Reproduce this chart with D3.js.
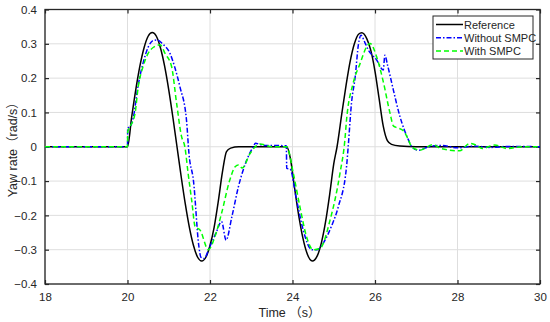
<!DOCTYPE html>
<html>
<head>
<meta charset="utf-8">
<script src="https://cdn.jsdelivr.net/npm/d3@7"></script>
<style>
  body { margin: 0; background: #fff; }
  text { font-family: "Liberation Sans", Arial, "Noto Sans CJK SC", sans-serif; fill: #262626; }
</style>
</head>
<body>
<div id="chart"></div>
<script>
// reference yaw rate
var refT = [18, 20, 20.1, 20.2, 20.3, 20.4, 20.5, 20.6, 20.7, 20.8, 20.9, 21.0, 21.1, 21.2, 21.3, 21.4, 21.5, 21.6, 21.7, 21.8, 21.9, 22.0, 22.1, 22.2, 22.3, 22.4, 22.5, 22.7, 23.86, 23.95, 24.05, 24.15, 24.25, 24.35, 24.48, 24.6, 24.7, 24.8, 24.9, 25.0, 25.08, 25.2, 25.3, 25.4, 25.5, 25.6, 25.68, 25.8, 25.9, 26.0, 26.1, 26.2, 26.3, 26.4, 26.6, 27, 30];
var refV = [0, 0, 0.086, 0.166, 0.235, 0.288, 0.322, 0.333, 0.322, 0.288, 0.235, 0.166, 0.086, 0.0, -0.086, -0.166, -0.235, -0.288, -0.322, -0.333, -0.322, -0.288, -0.235, -0.16, -0.075, -0.014, -0.004, 0, 0, -0.035, -0.12, -0.2, -0.265, -0.31, -0.333, -0.318, -0.28, -0.22, -0.14, -0.05, 0.0, 0.1, 0.18, 0.25, 0.3, 0.328, 0.332, 0.315, 0.28, 0.22, 0.14, 0.06, 0.018, 0.007, 0.002, 0, 0];

// without SMPC
var noT = [18, 20, 20.005, 20.06, 20.14, 20.26, 20.38, 20.5, 20.63, 20.72, 20.85, 21.03, 21.15, 21.27, 21.43, 21.49, 21.6, 21.73, 21.78, 21.85, 22.0, 22.15, 22.28, 22.39, 22.53, 22.69, 22.89, 23.05, 23.1, 23.3, 23.85, 23.86, 23.94, 24.1, 24.26, 24.47, 24.6, 24.75, 24.95, 25.11, 25.31, 25.35, 25.43, 25.52, 25.6, 25.66, 25.75, 25.84, 26.04, 26.2, 26.24, 26.3, 26.44, 26.6, 26.81, 26.89, 27.05, 27.3, 27.6, 28.0, 28.4, 28.8, 29.2, 30];
var noV = [0, 0, 0.055, 0.058, 0.085, 0.18, 0.245, 0.29, 0.31, 0.311, 0.3, 0.272, 0.23, 0.175, 0.078, -0.02, -0.1, -0.29, -0.322, -0.326, -0.29, -0.25, -0.218, -0.272, -0.204, -0.116, -0.039, 0.0, 0.01, 0.004, 0.003, -0.063, -0.065, -0.155, -0.243, -0.3, -0.3, -0.28, -0.23, -0.175, -0.058, 0.0, 0.127, 0.204, 0.3, 0.325, 0.305, 0.282, 0.253, 0.224, 0.267, 0.24, 0.168, 0.09, 0.02, 0.0, -0.01, 0.0, 0.004, -0.003, 0.002, -0.002, 0.001, 0];

// with SMPC
var smT = [18, 20, 20.005, 20.02, 20.18, 20.26, 20.38, 20.5, 20.63, 20.79, 20.91, 21.07, 21.19, 21.31, 21.39, 21.47, 21.56, 21.64, 21.76, 21.96, 22.12, 22.28, 22.48, 22.61, 22.69, 22.78, 22.97, 23.21, 23.5, 23.86, 24.02, 24.18, 24.34, 24.5, 24.67, 24.91, 25.15, 25.27, 25.31, 25.47, 25.64, 25.8, 25.88, 26.04, 26.2, 26.36, 26.45, 26.55, 26.7, 26.81, 26.89, 27.09, 27.4, 27.6, 28.05, 28.3, 28.45, 28.6, 28.9, 29.2, 29.6, 30];
var smV = [0, 0, 0.044, 0.049, 0.095, 0.175, 0.235, 0.272, 0.29, 0.297, 0.272, 0.233, 0.127, 0.03, 0.0, -0.078, -0.16, -0.233, -0.243, -0.3, -0.262, -0.194, -0.097, -0.058, -0.053, -0.062, -0.02, 0.008, 0.0, 0.0, -0.078, -0.175, -0.262, -0.3, -0.296, -0.214, -0.078, 0.02, 0.078, 0.185, 0.243, 0.292, 0.301, 0.262, 0.19, 0.1, 0.06, 0.055, 0.045, 0.02, 0.0, -0.01, 0.006, -0.005, -0.012, 0.01, 0.005, -0.005, 0.005, -0.005, 0.0, 0];

var xTicks = [18, 20, 22, 24, 26, 28, 30];
var yTicks = [0.4, 0.3, 0.2, 0.1, 0, -0.1, -0.2, -0.3, -0.4];
var yTickLabels = ['0.4', '0.3', '0.2', '0.1', '0', '\u22120.1', '\u22120.2', '\u22120.3', '\u22120.4'];
var seriesNames = ['Reference', 'Without SMPC', 'With SMPC'];

const W = 550, H = 322;
const margin = { top: 9.5, right: 10, bottom: 38, left: 45 };
const width = W - margin.left - margin.right;
const height = H - margin.top - margin.bottom;

const svg = d3.select('#chart')
  .append('svg')
    .attr('width', W)
    .attr('height', H)
  .append('g')
    .attr('transform', `translate(${margin.left},${margin.top})`);

const x = d3.scaleLinear().domain([18, 30]).range([0, width]);
const y = d3.scaleLinear().domain([-0.4, 0.4]).range([height, 0]);

// grid
svg.append('g')
  .selectAll('line')
  .data(xTicks)
  .join('line')
    .attr('x1', d => x(d)).attr('x2', d => x(d))
    .attr('y1', 0).attr('y2', height)
    .attr('stroke', '#dedede').attr('stroke-width', 1);
svg.append('g')
  .selectAll('line')
  .data(yTicks)
  .join('line')
    .attr('y1', d => y(d)).attr('y2', d => y(d))
    .attr('x1', 0).attr('x2', width)
    .attr('stroke', '#dedede').attr('stroke-width', 1);

// axes (ticks inward, box style)
const fmtY = d => yTickLabels[yTicks.indexOf(d)];
const axisStyle = g => {
  g.select('.domain').remove();
  g.selectAll('.tick line').attr('stroke', '#262626').attr('stroke-width', 1.2);
  g.selectAll('.tick text').attr('font-size', 11.5).attr('fill', '#262626')
    .attr('font-family', '"Liberation Sans", Arial, sans-serif');
};
svg.append('g')
  .attr('transform', `translate(0,${height})`)
  .call(d3.axisBottom(x).tickValues(xTicks).tickSize(-4).tickPadding(9).tickFormat(d3.format('d')))
  .call(axisStyle);
svg.append('g')
  .call(d3.axisTop(x).tickValues(xTicks).tickSize(-4).tickFormat(''))
  .call(axisStyle);
svg.append('g')
  .call(d3.axisLeft(y).tickValues(yTicks).tickSize(-4).tickPadding(8).tickFormat(fmtY))
  .call(axisStyle);
svg.append('g')
  .attr('transform', `translate(${width},0)`)
  .call(d3.axisRight(y).tickValues(yTicks).tickSize(-4).tickFormat(''))
  .call(axisStyle);

// box
svg.append('rect')
  .attr('x', 0).attr('y', 0)
  .attr('width', width).attr('height', height)
  .attr('fill', 'none')
  .attr('stroke', '#262626')
  .attr('stroke-width', 1.3);

// lines
const lineGen = d3.line()
  .x(d => x(d[0]))
  .y(d => y(d[1]))
  .curve(d3.curveMonotoneX);

const series = [
  { t: refT, v: refV, color: '#000000', dash: null },
  { t: noT, v: noV, color: '#0000ff', dash: '5,2,1.5,2' },
  { t: smT, v: smV, color: '#00ff00', dash: '5,3' }
];

const plot = svg.append('g');
plot.selectAll('path')
  .data(series)
  .join('path')
    .attr('d', s => lineGen(s.t.map((t, i) => [t, s.v[i]])))
    .attr('fill', 'none')
    .attr('stroke', s => s.color)
    .attr('stroke-width', 1.5)
    .attr('stroke-dasharray', s => s.dash);

// legend
const lg = svg.append('g')
  .attr('transform', `translate(${433 - margin.left},${16 - margin.top})`);
lg.append('rect')
  .attr('width', 100).attr('height', 43)
  .attr('fill', '#fff')
  .attr('stroke', '#262626')
  .attr('stroke-width', 1);
seriesNames.forEach((name, i) => {
  const yy = 8.5 + i * 13.3;
  lg.append('line')
    .attr('x1', 3).attr('x2', 30)
    .attr('y1', yy).attr('y2', yy)
    .attr('stroke', series[i].color)
    .attr('stroke-width', 1.5)
    .attr('stroke-dasharray', series[i].dash);
  lg.append('text')
    .attr('x', 31).attr('y', yy + 4)
    .attr('font-size', 11)
    .text(name);
});

// axis titles
svg.append('text')
  .attr('x', x(24) - 3)
  .attr('y', height + 33)
  .attr('text-anchor', 'middle')
  .attr('font-size', 12.5)
  .text('Time （s）');

svg.append('text')
  .attr('transform', `translate(${17 - margin.left},${y(0)}) rotate(-90)`)
  .attr('text-anchor', 'middle')
  .attr('font-size', 12.5)
  .text('Yaw rate（rad/s）');
</script>
</body>
</html>
